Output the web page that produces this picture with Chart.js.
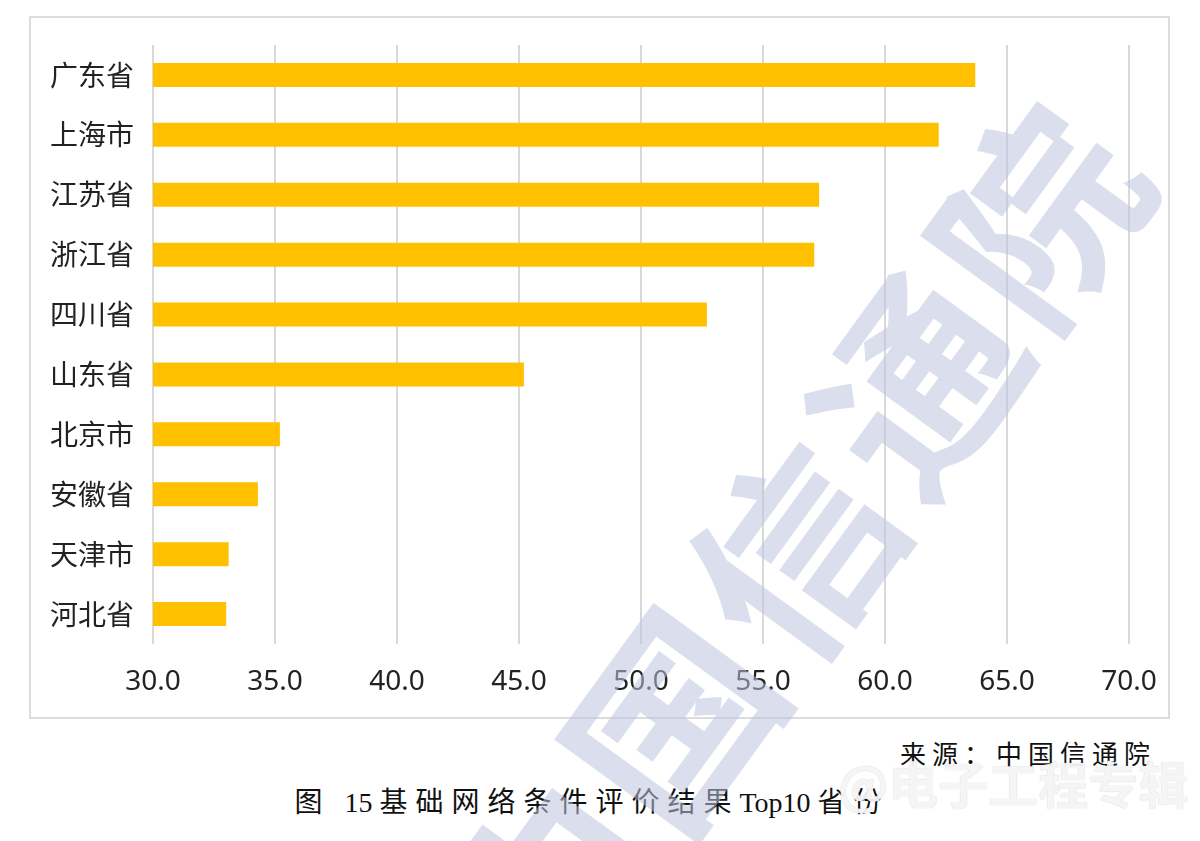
<!DOCTYPE html>
<html lang="zh-CN">
<head>
<meta charset="utf-8">
<title>基础网络条件评价结果 Top10 省份</title>
<script src="https://cdn.jsdelivr.net/npm/chart.js@4.4.1/dist/chart.umd.min.js"></script>
<style>
  html, body { margin:0; padding:0; background:#fff; }
  body { width:1200px; height:841px; position:relative; overflow:hidden; }
  .box {
    position:absolute; left:29px; top:16px; width:1137px; height:699px;
    border:2px solid #dcdcdc; background:#fff;
  }
  .box canvas { display:block; }
  .src {
    position:absolute; right:44px; top:734px;
    font:26px "Liberation Serif","Noto Sans CJK SC",serif; letter-spacing:6px; color:#111;
  }
  .cap {
    position:absolute; left:0; width:1184px; top:780px; text-align:center;
    font:28px "Liberation Serif","Noto Sans CJK SC",serif; color:#111;
  }
  .cap .zh { letter-spacing:8px; }
  /* 水印 */
  .wm {
    position:absolute; left:298px; top:455px; width:900px;
    transform:rotate(-54deg); transform-origin:center;
    font:bold 200px "Noto Sans CJK SC",sans-serif; letter-spacing:8px;
    color:rgba(190,196,222,0.55); white-space:nowrap; pointer-events:none;
  }
  .wm2 {
    position:absolute; left:838px; top:746px;
    font:bold 50px "Noto Sans CJK SC",sans-serif; color:rgba(255,255,255,0.85);
    text-shadow:0 0 1px rgba(160,160,170,0.7); pointer-events:none;
  }
</style>
</head>
<body>
<div class="box"><canvas id="chart1" width="1137" height="699"></canvas></div>
<div class="src">来源：中国信通院</div>
<div class="cap"><span class="zh">图</span>&nbsp;&nbsp;15&nbsp;<span class="zh">基础网络条件评价结果</span>Top10&nbsp;<span class="zh">省份</span></div>
<div class="wm">中国信通院</div>
<div class="wm2">@电子工程专辑</div>

<script>
/* ── 데이터 ── */
const provinces = ['广东省','上海市','江苏省','浙江省','四川省','山东省','北京市','安徽省','天津市','河北省'];
const scores    = [63.7, 62.2, 57.3, 57.1, 52.7, 45.2, 35.2, 34.3, 33.1, 33.0];
const xTicks    = [30, 35, 40, 45, 50, 55, 60, 65, 70];

const BAR  = '#FFC000';
const GRID = '#d9d9d9';
const TICK = '#222';

new Chart(document.getElementById('chart1'), {
  type: 'bar',
  data: {
    labels: provinces,
    datasets: [{
      label: '评价结果',
      data: scores,
      backgroundColor: BAR,
      borderWidth: 0,
      barPercentage: 0.8,
      categoryPercentage: 0.5
    }]
  },
  options: {
    indexAxis: 'y',
    responsive: false,
    animation: false,
    layout: { padding: { top: 27, right: 39, left: 0, bottom: 0 } },
    plugins: { legend: { display: false }, tooltip: { enabled: false } },
    scales: {
      x: {
        min: xTicks[0],
        max: xTicks[xTicks.length - 1],
        afterBuildTicks: s => { s.ticks = xTicks.map(v => ({ value: v })); },
        // 라벨 overhang 무시 → layout padding 그대로
        afterFit: s => { s.height = 73; s.paddingLeft = 0; s.paddingRight = 0; },
        grid: { color: GRID, lineWidth: 2, drawTicks: false },
        border: { display: false },
        ticks: {
          color: TICK, padding: 21,
          font: { family: '"Noto Sans","Noto Sans CJK SC",sans-serif', size: 28 },
          callback: v => Number(v).toFixed(1)
        }
      },
      y: {
        afterFit: s => { s.width = 122; s.paddingTop = 0; s.paddingBottom = 0; },
        grid: { display: false, drawTicks: false },
        border: { display: false },
        ticks: {
          color: TICK, padding: 19,
          font: { family: '"Noto Sans CJK SC",sans-serif', size: 28 }
        }
      }
    }
  }
});
</script>
</body>
</html>
